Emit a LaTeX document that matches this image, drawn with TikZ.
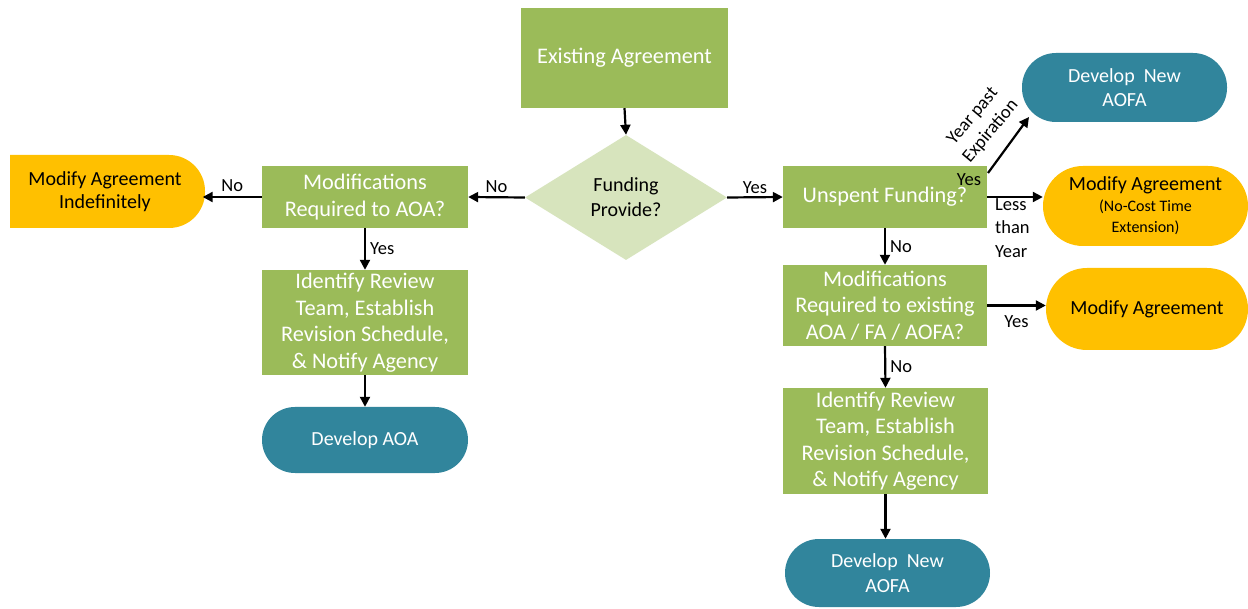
\documentclass[tikz,border=0pt]{standalone}
\usepackage{fontspec}
\setmainfont{Carlito}
\usetikzlibrary{arrows.meta,shapes.geometric}
\definecolor{gbox}{HTML}{9BBB59}
\definecolor{gdia}{HTML}{D7E4BD}
\definecolor{teal}{HTML}{31859C}
\definecolor{orng}{HTML}{FFC000}
\tikzset{
  gb/.style={rectangle,fill=gbox,text=white,align=center,inner sep=0pt,font=\fontsize{22.3}{26.5}\selectfont},
  tb/.style={rectangle,rounded corners=33pt,fill=teal,text=white,align=center,inner sep=0pt,font=\fontsize{20}{24.5}\selectfont},
  ob/.style={rectangle,rounded corners=36pt,fill=orng,text=black,align=center,inner sep=0pt,font=\fontsize{20}{24}\selectfont},
  arr/.style={line width=2.2pt,-{Triangle[length=10pt,width=10pt]}},
  lbl/.style={font=\fontsize{18.5}{23.5}\selectfont,inner sep=0pt,align=left}
}
\begin{document}
\begin{tikzpicture}[x=1pt,y=-1pt]
\useasboundingbox (0,0) rectangle (1248,609);
\fill[white] (0,0) rectangle (1248,609);
% nodes
\node[gb,minimum width=207pt,minimum height=100pt] (ea) at (624.5,58) {Existing Agreement};
\node[diamond,fill=gdia,minimum width=202pt,minimum height=125pt,inner sep=0pt,aspect=1.6] (fp) at (626,197.5) {};
\node[align=center,font=\fontsize{20}{25}\selectfont] (fpt) at (fp.center) {Funding\\Provide?};
\node[gb,minimum width=206pt,minimum height=62pt] (mra) at (365,197) {Modifications\\Required to AOA?};
\begin{scope}
\clip (10,0) rectangle (300,609);
\fill[orng,rounded corners=36pt] (-30,155) rectangle (205,228);
\end{scope}
\node[align=center,inner sep=0pt,font=\fontsize{20}{23.5}\selectfont,minimum width=195pt,minimum height=73pt] (mai) at (105,191.5) {Modify Agreement\\Indefinitely};
\node[gb,minimum width=206pt,minimum height=105pt] (irl) at (365,322.5) {Identify Review\\Team, Establish\\Revision Schedule,\\\& Notify Agency};
\node[tb,minimum width=206pt,minimum height=66pt] (daoa) at (365,440) {Develop AOA};
\node[gb,minimum width=204pt,minimum height=62pt] (uf) at (885,197) {Unspent Funding?};
\node[tb,minimum width=205pt,minimum height=69pt,rounded corners=34pt] (dnt) at (1124.5,87.5) {Develop\ \ New\\AOFA};
\node[ob,minimum width=205pt,minimum height=80pt,rounded corners=40pt] (mnc) at (1145.5,206) {Modify Agreement\\[-3pt]{\fontsize{16}{21}\selectfont (No-Cost Time}\\[-3pt]{\fontsize{16}{21}\selectfont Extension)}};
\node[gb,minimum width=204pt,minimum height=81pt] (mre) at (885,305.5) {Modifications\\Required to existing\\AOA / FA / AOFA?};
\node[ob,minimum width=202pt,minimum height=82pt,rounded corners=41pt] (ma) at (1147,309) {Modify Agreement};
\node[gb,minimum width=205pt,minimum height=106pt] (irr) at (885.5,441) {Identify Review\\Team, Establish\\Revision Schedule,\\\& Notify Agency};
\node[tb,minimum width=205pt,minimum height=68pt,rounded corners=34pt] (dnb) at (887.5,573) {Develop\ \ New\\AOFA};
% connectors
\draw[arr] (ea.south) -- (fp.north);
\draw[arr] (fp.west) -- (mra.east) node[lbl,midway,above=4pt] {No};
\draw[arr] (mra.west) -- (mra.west -| mai.east) node[lbl,midway,above=4pt] {No};
\draw[arr] (mra.south) -- (irl.north) node[lbl,midway,right=4pt] {Yes};
\draw[arr] (irl.south) -- (daoa.north);
\draw[arr] (fp.east) -- (uf.west) node[lbl,midway,above=3pt] {Yes};
\coordinate (ds) at (988,173);
\coordinate (de) at (1029,117);
\draw[arr] (ds) -- (de);
\node[lbl] (yes1) at (969,180) {Yes};
\node[lbl,align=center,rotate=50] (ype) at (982,124) {Year past\\Expiration};
\draw[arr] (uf.east) -- (uf.east -| mnc.west);
\node[lbl,anchor=north west] (lty) at (995,198) {Less\\than\\Year};
\draw[arr] (uf.south) -- (mre.north) node[lbl,midway,right=4pt] {No};
\draw[arr] (mre.east) -- (mre.east -| ma.west) node[lbl,midway,below=9pt] {Yes};
\draw[arr] (mre.south) -- (irr.north) node[lbl,midway,right=4pt] {No};
\draw[arr] (irr.south) -- (irr.south |- dnb.north);
\end{tikzpicture}
\end{document}
